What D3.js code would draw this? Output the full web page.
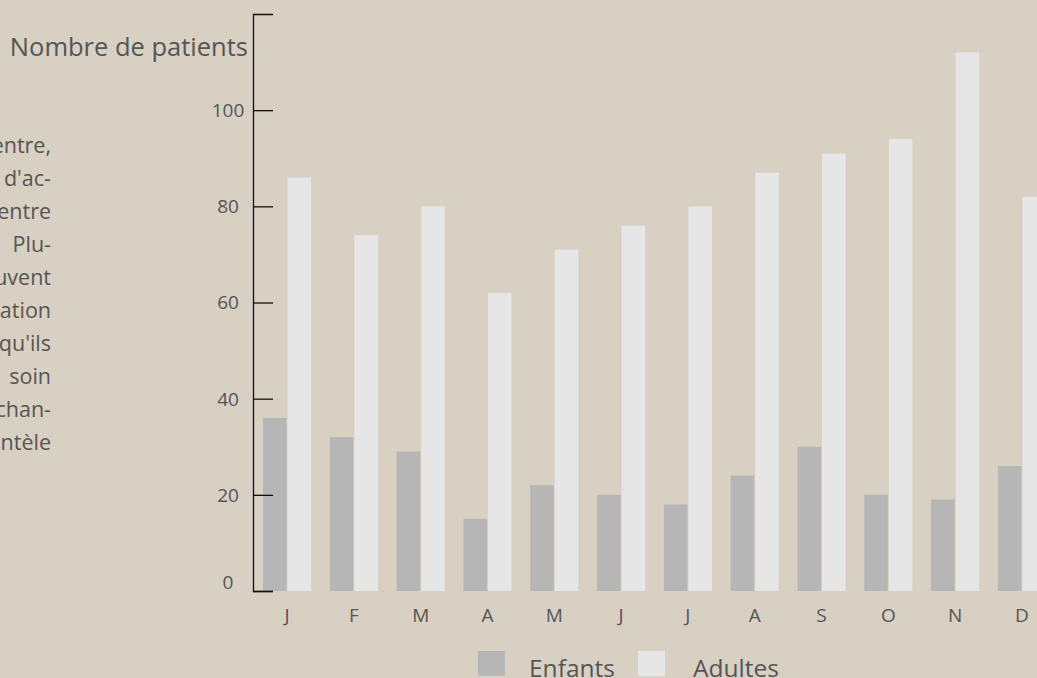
<!DOCTYPE html>
<html lang="fr">
<head>
    <meta charset="UTF-8">
    <title>Nombre de patients</title>
    <script src="https://cdn.jsdelivr.net/npm/d3@7"></script>
    <style>
        html, body { margin: 0; padding: 0; background: #d8d0c2; overflow: hidden; }
        svg { display: block; font-family: "Open Sans", sans-serif; }
    </style>
</head>
<body>
<svg></svg>

<script>
    const width = 1037,
        height = 678;

    // données
    const mois = ["janvier", "février", "mars", "avril", "mai", "juin",
        "juillet", "août", "septembre", "octobre", "novembre", "décembre"];
    const initiales = ["J", "F", "M", "A", "M", "J", "J", "A", "S", "O", "N", "D"];
    const series = ["Enfants", "Adultes"];
    const enfants = [36, 32, 29, 15, 22, 20, 18, 24, 30, 20, 19, 26];
    const adultes = [86, 74, 80, 62, 71, 76, 80, 87, 91, 94, 112, 82];
    const graduations = [0, 20, 40, 60, 80, 100];

    const texte = [
        "Tout au long de l'année, le centre,",
        "a vu croître son volume d'ac-",
        "tivité, avec un écart net entre",
        "adultes et enfants.   Plu-",
        "sieurs d'entre eux  peuvent",
        "pour un suivi de consultation",
        "régulier, preuve qu'ils",
        "apprécient la qualité du    soin",
        "et de l'accueil. Ce chan-",
        "gement élargit la clientèle"
    ];

    const couleurs = {Enfants: "#b6b6b6", Adultes: "#e6e6e6"};
    const gris = "#555";

    const svg = d3.select("svg")
        .attr("width", width)
        .attr("height", height);

    svg.append("rect")
        .attr("width", width)
        .attr("height", height)
        .attr("fill", "#d8d0c2");

    const y = d3.scaleLinear()
        .domain([0, 120])
        .range([591, 14]);

    const x0 = d3.scaleBand()
        .domain(mois)
        .range([253, 1056])
        .paddingInner(0.28)
        .paddingOuter(0.15);

    const x1 = d3.scaleBand()
        .domain(series)
        .range([0, x0.bandwidth()])
        .paddingInner(0.04);

    const rows = mois.map((m, i) => ({mois: m, Enfants: enfants[i], Adultes: adultes[i]}));

    // paragraphe coupé à gauche
    svg.append("g")
        .attr("fill", gris)
        .style("font-size", "21.5px")
        .selectAll("text")
        .data(texte)
        .join("text")
        .attr("x", 51)
        .attr("y", (d, i) => 153 + i * 33)
        .attr("text-anchor", "end")
        .style("white-space", "pre")
        .text(d => d);

    // barres
    svg.append("g")
        .selectAll("g")
        .data(rows)
        .join("g")
        .attr("transform", d => `translate(${x0(d.mois)},0)`)
        .selectAll("rect")
        .data(d => series.map(s => ({serie: s, valeur: d[s]})))
        .join("rect")
        .attr("x", d => x1(d.serie))
        .attr("width", x1.bandwidth())
        .attr("y", d => y(d.valeur))
        .attr("height", d => y(0) - y(d.valeur))
        .attr("fill", d => couleurs[d.serie]);

    // axe vertical
    const axe = svg.append("g")
        .attr("transform", "translate(253,0)")
        .style("color", "#111")
        .call(d3.axisLeft(y).tickValues(graduations).tickSize(-20));

    axe.selectAll(".tick text")
        .attr("x", -25)
        .attr("text-anchor", "middle")
        .attr("fill", gris)
        .style("font-family", "'Open Sans', sans-serif")
        .style("font-size", "19px")
        .attr("dy", d => d === 0 ? "-0.15em" : "0.34em");

    axe.select(".domain").attr("stroke-width", 1.3);
    axe.selectAll(".tick line").attr("stroke-width", 1.3);

    svg.append("text")
        .attr("x", 248)
        .attr("y", 56)
        .attr("text-anchor", "end")
        .attr("fill", gris)
        .style("font-size", "25.5px")
        .text("Nombre de patients");

    // mois
    svg.append("g")
        .attr("fill", gris)
        .style("font-size", "19px")
        .selectAll("text")
        .data(mois)
        .join("text")
        .attr("x", d => x0(d) + x0.bandwidth() / 2)
        .attr("y", 622)
        .attr("text-anchor", "middle")
        .text((d, i) => initiales[i]);

    // légende
    const legende = svg.append("g")
        .selectAll("g")
        .data(series)
        .join("g")
        .attr("transform", (d, i) => `translate(${478 + i * 160},651)`);

    legende.append("rect")
        .attr("width", 27)
        .attr("height", 25)
        .attr("fill", d => couleurs[d]);

    legende.append("text")
        .attr("x", (d, i) => 51 + i * 4)
        .attr("y", 26)
        .attr("fill", gris)
        .style("font-size", "24.5px")
        .text(d => d);
</script>
</body>
</html>
